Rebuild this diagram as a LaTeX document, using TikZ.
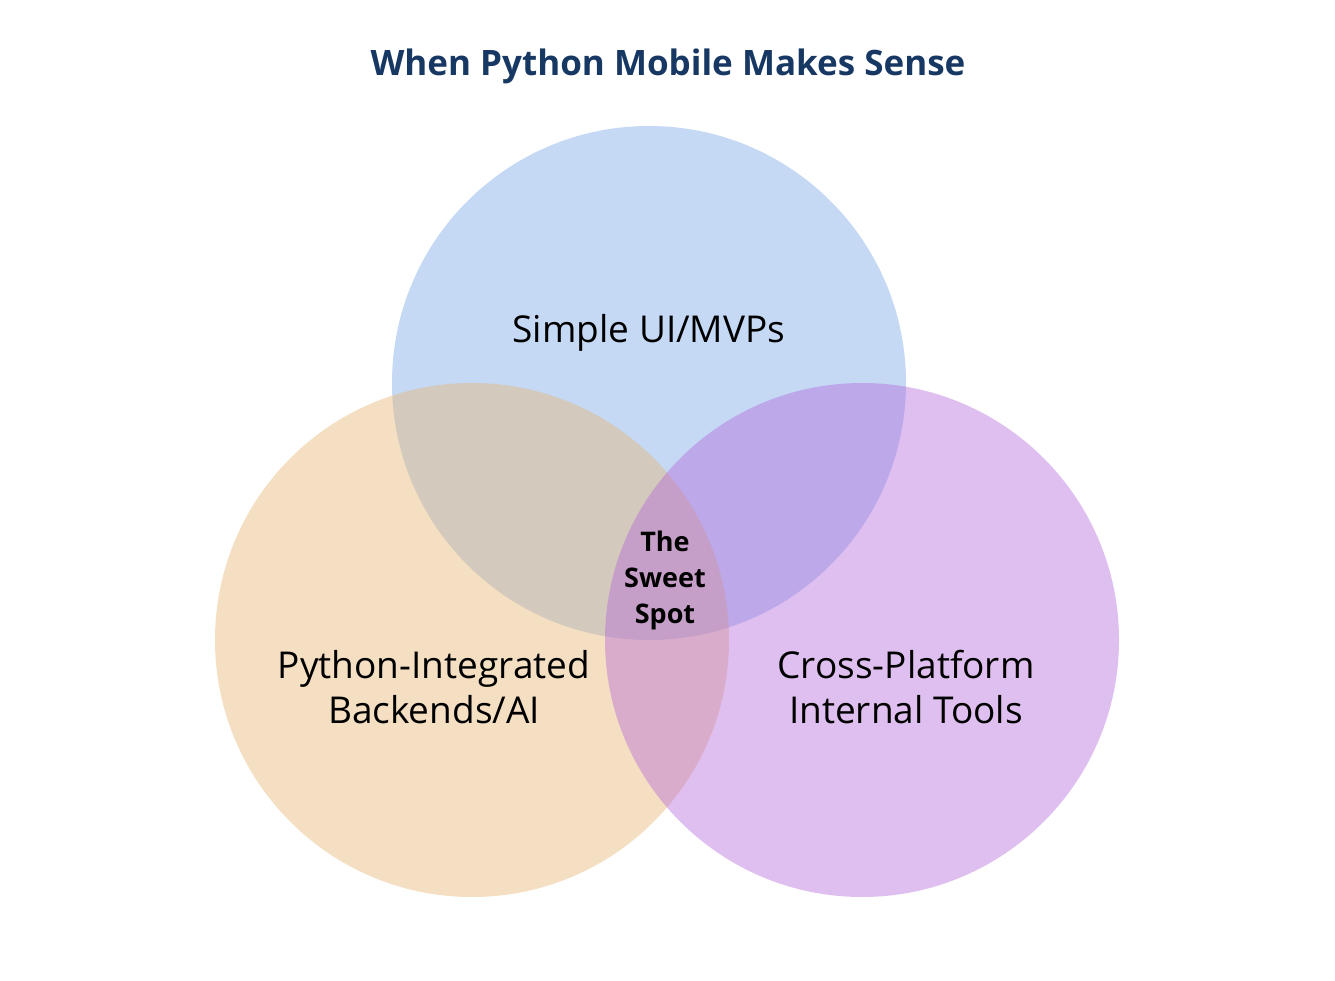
\documentclass[tikz,border=0pt]{standalone}
\usepackage{fontspec}
\setmainfont{Open Sans}
\definecolor{cblue}{RGB}{110,160,232}
\definecolor{corange}{RGB}{232,177,103}
\definecolor{cpurple}{RGB}{177,97,217}
\definecolor{navy}{RGB}{24,56,100}
\begin{document}
\begin{tikzpicture}[x=1pt,y=-1pt,
  venn/.style={fill opacity=0.4,draw=none},
  lbl/.style={font=\fontsize{37}{45}\selectfont,align=center,text=black}]
\useasboundingbox (0,0) rectangle (1335,981);
\fill[white] (0,0) rectangle (1335,981);
\node[font=\bfseries\fontsize{35}{40}\selectfont,text=navy] (title) at (668,66) {When Python Mobile Makes Sense};
\fill[venn,cblue] (649,383) circle (257);
\fill[venn,corange] (472,640) circle (257);
\fill[venn,cpurple] (862,640) circle (257);
\node[lbl] (a) at (649,333) {Simple UI/MVPs};
\node[lbl] (b) at (434,687) {Python-Integrated\\Backends/AI};
\node[lbl] (c) at (906,687) {Cross-Platform\\Internal Tools};
\node[font=\bfseries\fontsize{27}{36}\selectfont,align=center] (d) at (665,580) {The\\Sweet\\Spot};
\end{tikzpicture}
\end{document}
